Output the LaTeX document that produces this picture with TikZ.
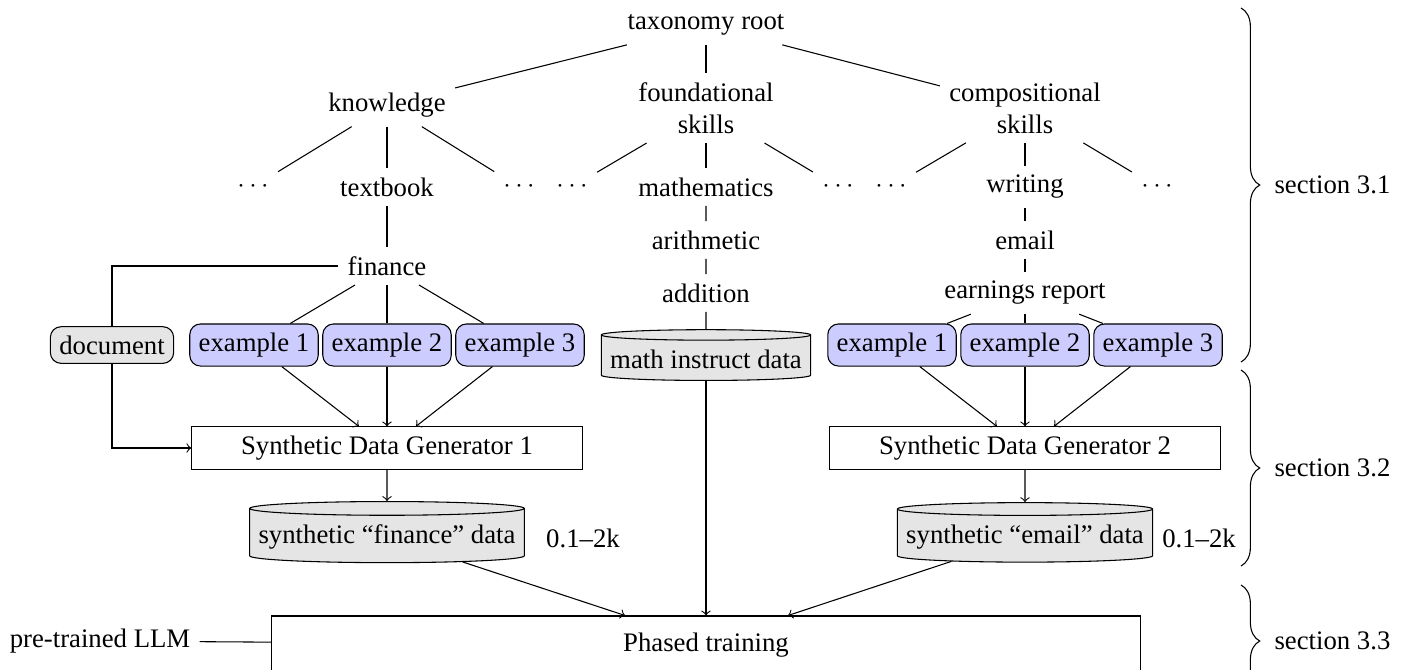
\documentclass[tikz,border=0pt]{standalone}
\usepackage{fontspec}
\setmainfont{Liberation Serif}
\usetikzlibrary{shapes.geometric, decorations.pathreplacing}

\begin{document}
\begin{tikzpicture}[x=0.374pt, y=-0.374pt,
		example/.style = {draw, rounded corners, fill=blue!20},
		docbox/.style = {draw, rounded corners, fill=gray!20},
		generator/.style = {draw, minimum width=146pt, minimum height=15.6pt},
		database/.style = {draw, cylinder, shape border rotate=90, aspect=0.05, fill=gray!20},
		sectionbrace/.style = {decorate, decoration={brace, amplitude=7pt}}]
		\useasboundingbox (0,0) rectangle (1403,669);
		
		% taxonomy tree
		\node (root) at (706,25) {taxonomy root};
		\node (know) at (387,105) {knowledge};
		\node [align=center] (found) at (706,108) {foundational\\skills};
		\node [align=center] (comp) at (1025,108) {compositional\\skills};
		
		\node (kdotsl) at (253,187) {$\cdots$};
		\node (textbook) at (387,187) {textbook};
		\node (kdotsr) at (519,187) {$\cdots$};
		\node (fdotsl) at (572,187) {$\cdots$};
		\node (math) at (706,187) {mathematics};
		\node (fdotsr) at (838,187) {$\cdots$};
		\node (cdotsl) at (891,187) {$\cdots$};
		\node (writing) at (1025,187) {writing};
		\node (cdotsr) at (1157,187) {$\cdots$};
		
		\node (finance) at (387,266) {finance};
		\node (arith) at (706,240) {arithmetic};
		\node (addition) at (706,293) {addition};
		\node (email) at (1025,240) {email};
		\node (earnings) at (1025,293) {earnings report};
		
		\node [docbox] (doc) at (112,345) {document};
		\node [example] (fex1) at (254,345) {example 1};
		\node [example] (fex2) at (387,345) {example 2};
		\node [example] (fex3) at (520,345) {example 3};
		\node [database] (mathdata) at (706,359) {math instruct data};
		\node [example] (eex1) at (892,345) {example 1};
		\node [example] (eex2) at (1025,345) {example 2};
		\node [example] (eex3) at (1158,345) {example 3};
		
		\node [generator] (gen1) at (387,448) {Synthetic Data Generator 1};
		\node [generator] (gen2) at (1025,448) {Synthetic Data Generator 2};
		
		\node [database, minimum height=19pt] (findata) at (387,537) {synthetic ``finance'' data};
		\node (fincount) at (583,538) {0.1--2k};
		\node [database, minimum height=19pt] (emaildata) at (1025,537) {synthetic ``email'' data};
		\node (emailcount) at (1199,538) {0.1--2k};
		
		\node [draw, minimum width=325pt, minimum height=21.7pt] (phased) at (706,645) {Phased training};
		\node (llm) at (100,641) {pre-trained LLM};
		
		\begin{scope}
			\draw (root) -- (know);
			\draw (root) -- (found);
			\draw (root) -- (comp);
			
			\draw (know) -- (kdotsl);
			\draw (know) -- (textbook);
			\draw (know) -- (kdotsr);
			\draw (found) -- (fdotsl);
			\draw (found) -- (math);
			\draw (found) -- (fdotsr);
			\draw (comp) -- (cdotsl);
			\draw (comp) -- (writing);
			\draw (comp) -- (cdotsr);
			
			\draw (textbook) -- (finance);
			\draw (math) -- (arith) -- (addition) -- (mathdata);
			\draw (writing) -- (email) -- (earnings);
			
			\draw (finance) -- (fex1);
			\draw (finance) -- (fex2);
			\draw (finance) -- (fex3);
			\draw (earnings) -- (eex1);
			\draw (earnings) -- (eex2);
			\draw (earnings) -- (eex3);
			
			\draw (finance) -| (doc);
			\draw (llm) -- (phased);
		\end{scope}
		
		\begin{scope}[->]
			\draw (doc) |- (gen1);
			\draw (fex1) -- ([xshift=-10.5pt]gen1.north);
			\draw (fex2) -- (gen1.north);
			\draw (fex3) -- ([xshift=10.8pt]gen1.north);
			\draw (eex1) -- ([xshift=-10.5pt]gen2.north);
			\draw (eex2) -- (gen2.north);
			\draw (eex3) -- ([xshift=10.8pt]gen2.north);
			
			\draw (gen1) -- (findata);
			\draw (gen2) -- (emaildata);
			
			\draw (findata) -- ([xshift=-30.3pt]phased.north);
			\draw (mathdata) -- (phased);
			\draw (emaildata) -- ([xshift=30.7pt]phased.north);
		\end{scope}
		
		\draw [sectionbrace] (1241,8) -- (1241,362) node [midway, right=9pt] (sec31) {section 3.1};
		\draw [sectionbrace] (1241,370) -- (1241,566) node [midway, right=9pt] (sec32) {section 3.2};
		\draw [sectionbrace] (1241,585) -- (1241,697) node [midway, right=9pt] (sec33) {section 3.3};
	\end{tikzpicture}
\end{document}
